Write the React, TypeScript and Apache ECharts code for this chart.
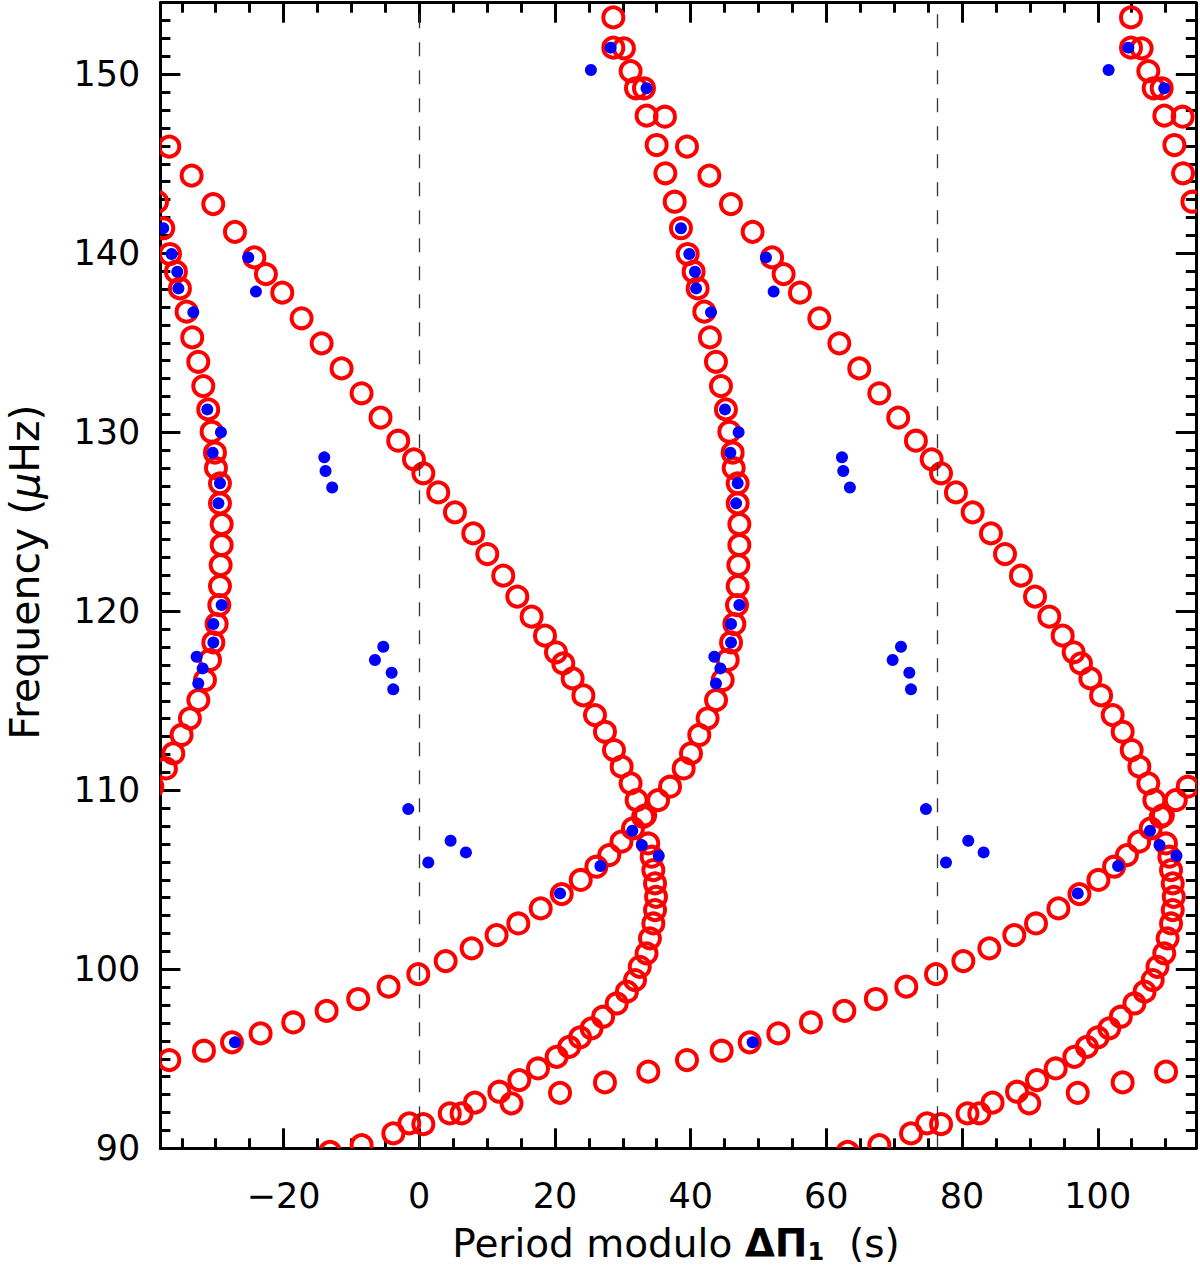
import React, { useEffect, useRef } from 'react';
import * as echarts from 'echarts';

// ---- constants of the echelle diagram ----
const DELTA_PI1 = 76.3; // s
const X_MIN = -38.15;
const X_MAX = 114.45;
const Y_MIN = 90;
const Y_MAX = 154;
const COPY_SHIFTS = [-1, 0, 1];

// ---- tick values ----
const xMajorTicks = [-20, 0, 20, 40, 60, 80, 100];
const xMinorTicks = [-35, -30, -25, -15, -10, -5, 5, 10, 15, 25, 30, 35, 45, 50, 55, 65, 70, 75, 85, 90, 95, 105, 110];
const yMajorTicks = [90, 100, 110, 120, 130, 140, 150];
const yMinorTicks = [
  91, 92, 93, 94, 95, 96, 97, 98, 99,
  101, 102, 103, 104, 105, 106, 107, 108, 109,
  111, 112, 113, 114, 115, 116, 117, 118, 119,
  121, 122, 123, 124, 125, 126, 127, 128, 129,
  131, 132, 133, 134, 135, 136, 137, 138, 139,
  141, 142, 143, 144, 145, 146, 147, 148, 149,
  151, 152, 153,
];

// ---- model modes (red open circles): period modulo ΔΠ1 (s), frequency (μHz) ----
const modelPeriod = [
  28.6, 28.6, 30.17, 31.15, 31.94, 33.12, 33.51, 36.21, 34.99, 36.27, 37.65,
  -37.73, -36.74, -35.86, -35.27, -34.29, -33.46, -32.57, -31.83, -31.1, -30.6, -30.11, -29.96, -29.37, -29.37,
  -29.12, -29.12, -29.27, -29.37, -29.47, -29.86, -30.35, -30.84, -31.58, -32.56, -33.8, -35.03, -36.25, -37.33,
  -36.84, -33.55, -30.36, -27.16, -24.3, -22.6, -20.19, -17.34, -14.39, -11.45, -8.5, -5.71, -3.1, -0.78,
  0.6, 2.8, 5.26, 7.96, 10.03, 12.38, 14.45, 16.56, 18.53, 20.15, 21.23, 22.61, 24.19, 25.9, 27.37, 28.7,
  29.83, 31.15, 32.04, 33.0,
  33.75, 34.25, 34.5, 34.75, 34.9, 34.75, 34.5, 34.0, 33.5, 32.5, 31.8, 30.6, 29.1, 27.1, 25.4, 23.7, 22.1,
  20.25, 17.5, 14.74, 11.8, 8.2, 4.5, -1.47, -3.82, -8.49, -13.15,
  0.6, 6.24, 13.6, 20.75, 27.37, 33.76, -36.84, -31.73, -27.6, -23.38, -18.57, -13.65, -9.0, -4.52, -0.14,
  3.89, 7.72, 11.4, 14.6, 17.9, 21.0, 23.8, 26.1, 28.0, 29.8, 31.5, 33.3, 35.2, 36.96,
];
const modelFreq = [
  153.18, 151.49, 151.45, 150.18, 149.22, 149.22, 147.69, 147.63, 146.05, 144.47, 142.88,
  141.4, 139.96, 138.97, 138.04, 136.74, 135.3, 133.94, 132.58, 131.28, 130.03, 128.86, 128.0, 127.15, 126.03,
  124.87, 123.7, 122.58, 121.41, 120.35, 119.29, 118.26, 117.28, 116.16, 115.04, 114.02, 113.09, 112.06, 111.22,
  145.96, 144.34, 142.75, 141.2, 139.77, 138.84, 137.8, 136.37, 134.97, 133.57, 132.18, 130.82, 129.53, 128.49,
  127.71, 126.64, 125.53, 124.35, 123.2, 121.99, 120.82, 119.7, 118.64, 117.71, 117.09, 116.25, 115.3, 114.2, 113.27, 112.25,
  111.32, 110.39, 109.45, 108.52,
  107.03, 106.29, 105.54, 104.8, 104.05, 103.31, 102.56, 101.73, 100.89, 100.14, 99.4, 98.75, 98.09, 97.35, 96.7, 96.2, 95.67,
  95.11, 94.46, 93.81, 93.16, 92.55, 91.95, 91.39, 90.83, 90.18, 89.8,
  91.35, 91.95, 92.51, 93.1, 93.68, 94.28, 94.93, 95.45, 95.92, 96.42, 97.03, 97.68, 98.34, 99.03, 99.73,
  100.46, 101.17, 101.91, 102.56, 103.4, 104.2, 104.99, 105.73, 106.38, 107.13, 107.87, 108.6, 109.45, 110.2,
];

// ---- observed modes (blue dots) ----
const obsPeriod = [
  28.21, 25.3, 33.5, -37.73, -36.5, -35.66, -35.5, -33.3, -31.24, -29.23, -30.45, -29.37, -29.6,
  -29.12, -30.35, -30.35, -32.81, -31.92, -32.57, -25.2, -24.07, -14.0, -13.81, -12.83,
  -5.3, -6.53, -4.07, -3.83, -1.62, 4.62, 6.88, 1.33, 31.4, 32.8, 35.3, 26.7, 20.75, -27.16,
];
const obsFreq = [
  151.49, 150.24, 149.22, 141.4, 139.96, 138.97, 138.04, 136.7, 131.28, 130.0, 128.86, 127.15, 126.03,
  120.35, 119.29, 118.26, 117.46, 116.81, 115.97, 139.77, 137.86, 128.6, 127.84, 126.92,
  118.02, 117.28, 116.57, 115.64, 108.95, 107.18, 106.53, 105.97, 107.74, 106.94, 106.35, 105.77, 104.24, 95.92,
];

const FONT = 'DejaVu Sans';

function replicate(px: number[], py: number[]) {
  const out: number[][] = [];
  for (const k of COPY_SHIFTS) {
    for (let i = 0; i < px.length; i++) out.push([px[i] + k * DELTA_PI1, py[i]]);
  }
  return out;
}

const fmt = (v: number) => (v < 0 ? '\u2212' + Math.abs(v) : String(v));

export default function App() {
  const ref = useRef<HTMLDivElement>(null);
  useEffect(() => {
    if (!ref.current) return;
    const chart = echarts.init(ref.current, null, { renderer: 'svg' });
    const lineStyle = { color: '#000', width: 3 };
    const xBase = { type: 'value', min: X_MIN, max: X_MAX, splitLine: { show: false } };
    const yBase = { type: 'value', min: Y_MIN, max: Y_MAX, splitLine: { show: false } };
    const noLine = { show: false, onZero: false };
    const mainLine = { show: true, onZero: false, lineStyle };
    const option: any = {
      animation: false,
      grid: { left: 160.4, right: 4.2, top: 2.7, bottom: 121.7, containLabel: false },
      xAxis: [
        {
          ...xBase, position: 'bottom', axisLine: mainLine,
          axisTick: { show: true, inside: true, length: 20, lineStyle, customValues: xMajorTicks },
          axisLabel: { show: true, customValues: xMajorTicks, margin: 30, fontSize: 35, fontFamily: FONT, color: '#000', formatter: fmt },
        },
        {
          ...xBase, position: 'bottom', axisLine: noLine,
          axisTick: { show: true, inside: true, length: 10, lineStyle, customValues: xMinorTicks },
          axisLabel: { show: false },
        },
        {
          ...xBase, position: 'top', axisLine: mainLine,
          axisTick: { show: true, inside: true, length: 20, lineStyle, customValues: xMajorTicks },
          axisLabel: { show: false },
        },
        {
          ...xBase, position: 'top', axisLine: noLine,
          axisTick: { show: true, inside: true, length: 10, lineStyle, customValues: xMinorTicks },
          axisLabel: { show: false },
        },
      ],
      yAxis: [
        {
          ...yBase, position: 'left', axisLine: mainLine,
          axisTick: { show: true, inside: true, length: 20, lineStyle, customValues: yMajorTicks },
          axisLabel: { show: true, customValues: yMajorTicks, margin: 20, fontSize: 35, fontFamily: FONT, color: '#000' },
        },
        {
          ...yBase, position: 'left', axisLine: noLine,
          axisTick: { show: true, inside: true, length: 10, lineStyle, customValues: yMinorTicks },
          axisLabel: { show: false },
        },
        {
          ...yBase, position: 'right', axisLine: mainLine,
          axisTick: { show: true, inside: true, length: 20, lineStyle, customValues: yMajorTicks },
          axisLabel: { show: false },
        },
        {
          ...yBase, position: 'right', axisLine: noLine,
          axisTick: { show: true, inside: true, length: 10, lineStyle, customValues: yMinorTicks },
          axisLabel: { show: false },
        },
      ],
      series: [
        {
          type: 'custom',
          name: 'model',
          xAxisIndex: 0,
          yAxisIndex: 0,
          clip: true,
          z: 2,
          encode: { x: 0, y: 1 },
          data: replicate(modelPeriod, modelFreq),
          renderItem: (_p: any, api: any) => {
            const c = api.coord([api.value(0), api.value(1)]);
            return {
              type: 'circle',
              shape: { cx: c[0], cy: c[1], r: 10 },
              style: { fill: 'none', stroke: '#ff0000', lineWidth: 4 },
            };
          },
          markLine: {
            silent: true,
            symbol: ['none', 'none'],
            label: { show: false },
            lineStyle: { color: '#333', width: 1.3, type: [14, 14] },
            data: [{ xAxis: 0 }, { xAxis: DELTA_PI1 }],
          },
        },
        {
          type: 'custom',
          name: 'observed',
          xAxisIndex: 0,
          yAxisIndex: 0,
          clip: true,
          z: 3,
          encode: { x: 0, y: 1 },
          data: replicate(obsPeriod, obsFreq),
          renderItem: (_p: any, api: any) => {
            const c = api.coord([api.value(0), api.value(1)]);
            return {
              type: 'circle',
              shape: { cx: c[0], cy: c[1], r: 6 },
              style: { fill: '#0000ff', stroke: 'none' },
            };
          },
        },
      ],
      graphic: [
        {
          type: 'text',
          x: 676,
          y: 1243,
          style: {
            text: 'Period modulo {g|ΔΠ}{s|1}  (s)',
            fontSize: 39,
            fontFamily: FONT,
            fill: '#000',
            align: 'center',
            verticalAlign: 'middle',
            rich: {
              g: { fontSize: 39, fontFamily: FONT, fontWeight: 'bold', lineHeight: 41 },
              s: { fontSize: 24, fontFamily: FONT, fontWeight: 'bold', verticalAlign: 'bottom', lineHeight: 24 },
            },
          },
        },
        {
          type: 'text',
          x: 25,
          y: 572,
          rotation: Math.PI / 2,
          style: {
            text: 'Frequency ({m|μ}Hz)',
            fontSize: 41,
            fontFamily: FONT,
            fill: '#000',
            align: 'center',
            verticalAlign: 'middle',
            rich: {
              m: { fontSize: 41, fontFamily: FONT, fontStyle: 'italic' },
            },
          },
        },
      ],
    };
    chart.setOption(option);
    return () => chart.dispose();
  }, []);
  return (
    <div
      ref={ref}
      style={{ position: 'fixed', left: 0, top: 0, width: 1200, height: 1270, background: '#fff' }}
    />
  );
}
